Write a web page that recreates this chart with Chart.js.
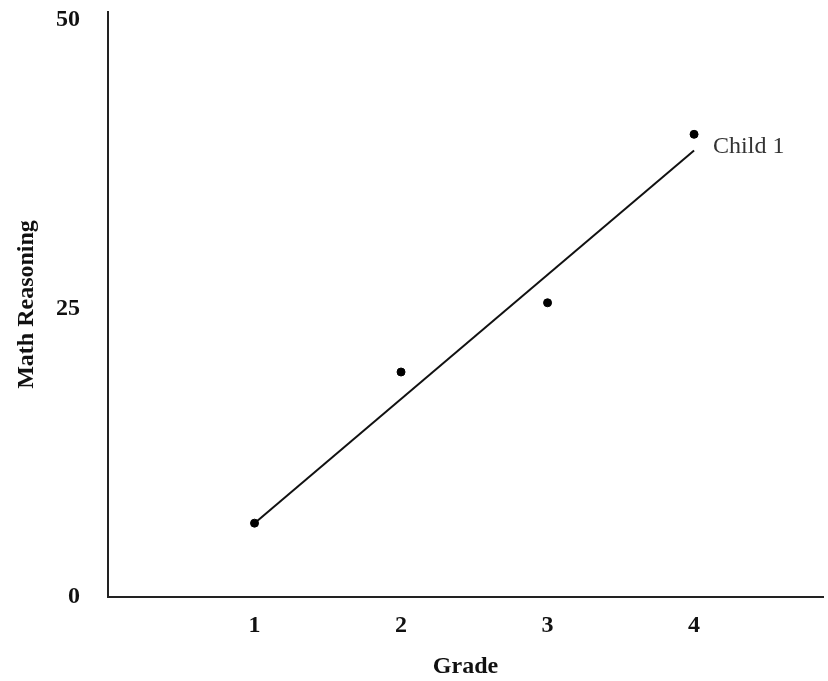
<!DOCTYPE html>
<html lang="en">
<head>
    <meta charset="utf-8">
    <title>Math Reasoning by Grade</title>
    <script src="https://cdn.jsdelivr.net/npm/chart.js"></script>
    <style>
        html, body { margin: 0; padding: 0; background: #fff; }
        #wrap { width: 828px; height: 681px; }
    </style>
</head>
<body>
    <div id="wrap"><canvas id="gradeChart"></canvas></div>

    <script>
        // observed scores for Child 1
        const grades = [1, 2, 3, 4];
        const scores = [6.4, 19.5, 25.5, 40.1];
        // fitted line, read at grade 1 and grade 4
        const lineGrades = [1, 4];
        const lineScores = [6.4, 38.7];
        const xTicks = [1, 2, 3, 4];
        const yTicks = [0, 25, 50];
        const seriesName = 'Child 1';

        const serif = 'Liberation Serif, Times New Roman, serif';

        // writes the series name next to the end of the fitted line
        const endLabel = {
            id: 'endLabel',
            afterDatasetsDraw(chart) {
                const meta = chart.getDatasetMeta(1);
                const last = meta.data[meta.data.length - 1];
                const c = chart.ctx;
                c.save();
                c.font = '24px ' + serif;
                c.fillStyle = '#333';
                c.textBaseline = 'middle';
                c.fillText(seriesName, last.x + 19, last.y - 4);
                c.restore();
            }
        };

        new Chart(document.getElementById('gradeChart'), {
            type: 'scatter',
            data: {
                datasets: [{
                    label: 'points',
                    data: grades.map((g, i) => ({ x: g, y: scores[i] })),
                    backgroundColor: '#000',
                    borderColor: '#000',
                    pointRadius: 4,
                    showLine: false
                }, {
                    label: 'fit',
                    data: lineGrades.map((g, i) => ({ x: g, y: lineScores[i] })),
                    borderColor: '#111',
                    borderWidth: 2,
                    pointRadius: 0,
                    showLine: true
                }]
            },
            options: {
                responsive: true,
                maintainAspectRatio: false,
                animation: false,
                layout: { padding: { top: 12, right: 0, bottom: 0, left: 0 } },
                plugins: {
                    legend: { display: false },
                    tooltip: { enabled: false }
                },
                scales: {
                    x: {
                        type: 'linear',
                        min: 0,
                        max: 4.88,
                        afterBuildTicks: (axis) => { axis.ticks = xTicks.map(v => ({ value: v })); },
                        afterFit: (axis) => {
                            axis.height = 84;
                            axis.paddingLeft = 0;
                            axis.paddingRight = 0;
                        },
                        grid: { display: false, drawTicks: false },
                        border: { display: true, color: '#222', width: 2 },
                        ticks: {
                            padding: 14,
                            color: '#111',
                            font: { family: serif, size: 24, weight: 'bold' }
                        },
                        title: {
                            display: true,
                            text: 'Grade',
                            color: '#111',
                            padding: { top: 0, bottom: 0 },
                            font: { family: serif, size: 24, weight: 'bold' }
                        }
                    },
                    y: {
                        min: 0,
                        max: 50.7,
                        afterBuildTicks: (axis) => { axis.ticks = yTicks.map(v => ({ value: v })); },
                        afterFit: (axis) => {
                            axis.width = 108;
                            axis.paddingTop = 0;
                            axis.paddingBottom = 0;
                        },
                        grid: { display: false, drawTicks: false },
                        border: { display: true, color: '#222', width: 2 },
                        ticks: {
                            padding: 28,
                            color: '#111',
                            font: { family: serif, size: 24, weight: 'bold' }
                        },
                        title: {
                            display: true,
                            text: 'Math Reasoning',
                            color: '#111',
                            padding: { top: 12, bottom: 0 },
                            font: { family: serif, size: 24, weight: 'bold' }
                        }
                    }
                }
            },
            plugins: [endLabel]
        });
    </script>
</body>
</html>
